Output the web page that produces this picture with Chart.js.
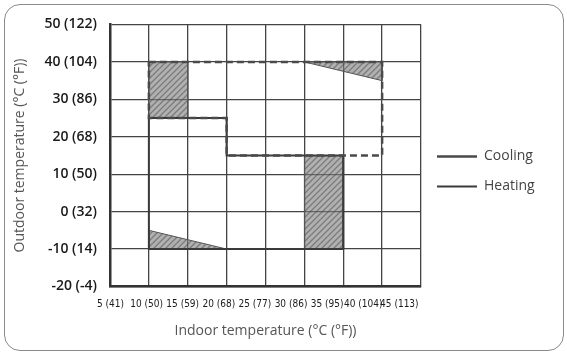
<!DOCTYPE html>
<html lang="en">
<head>
<meta charset="UTF-8">
<title>Operating range</title>
<script src="https://cdn.jsdelivr.net/npm/chart.js"></script>
<style>
  body { margin: 0; background: #fff; }
  #frame { position: absolute; left: 4px; top: 4px; width: 560px; height: 347px; box-sizing: border-box; border: 1.5px solid #8a8a8a; border-radius: 16px; }
  #wrap { position: absolute; left: 0; top: 0; width: 567px; height: 354px; }
</style>
</head>
<body>
<div id="frame"></div>
<div id="wrap"><canvas id="rangeChart"></canvas></div>
<script>
// axis ticks (°C) and their °C (°F) labels
const xTicks = [5, 10, 15, 20, 25, 30, 35, 40, 45];
const xTickLabels = ['5 (41)', '10 (50)', '15 (59)', '20 (68)', '25 (77)', '30 (86)', '35 (95)', '40 (104)', '45 (113)'];
const yTicks = [-20, -10, 0, 10, 20, 30, 40, 50];
const yTickLabels = ['-20 (-4)', '-10 (14)', '0 (32)', '10 (50)', '20 (68)', '30 (86)', '40 (104)', '50 (122)'];

// outlines: [indoor, outdoor]
const coolingPts = [[10, 40], [40, 40], [40, 15], [20, 15], [20, 25], [10, 25], [10, 40]];
const heatingPts = [[10, 25], [20, 25], [20, 15], [35, 15], [35, -10], [10, -10], [10, 25]];

// hatched areas
const hatchTopLeft = [[10, 40], [15, 40], [15, 25], [10, 25], [10, 40]];
const hatchTopRight = [[30, 40], [40, 40], [40, 35], [30, 40]];
const hatchRight = [[30, 15], [35, 15], [35, -10], [30, -10], [30, 15]];
const hatchBottomLeft = [[10, -5], [20, -10], [10, -10], [10, -5]];

const sans = "'Open Sans', sans-serif";

function hatch() {
    const c = document.createElement('canvas');
    c.width = 6; c.height = 6;
    const g = c.getContext('2d');
    g.fillStyle = 'rgba(125,125,125,0.6)';
    g.fillRect(0, 0, 6, 6);
    g.strokeStyle = 'rgba(70,70,70,0.5)';
    g.lineWidth = 1.3;
    g.beginPath();
    g.moveTo(0, 6); g.lineTo(6, 0);
    g.moveTo(-1, 1); g.lineTo(1, -1);
    g.moveTo(5, 7); g.lineTo(7, 5);
    g.stroke();
    return g.createPattern(c, 'repeat');
}
const pattern = hatch();

const toXY = pts => pts.map(p => ({x: p[0], y: p[1]}));

function hatchSet(pts) {
    return {
        label: '',
        data: toXY(pts),
        borderColor: '#555',
        borderWidth: 1,
        backgroundColor: pattern,
        fill: 'shape',
        pointRadius: 0,
        tension: 0
    };
}

const ctx = document.getElementById('rangeChart').getContext('2d');

new Chart(ctx, {
    type: 'line',
    data: {
        datasets: [
            {
                label: 'Cooling',
                data: toXY(coolingPts),
                borderColor: '#4a4a4a',
                borderWidth: 2.5,
                borderDash: [7, 4],
                fill: false,
                pointRadius: 0,
                tension: 0
            },
            {
                label: 'Heating',
                data: toXY(heatingPts),
                borderColor: '#3a3a3a',
                borderWidth: 2,
                fill: false,
                pointRadius: 0,
                tension: 0
            },
            hatchSet(hatchTopLeft),
            hatchSet(hatchTopRight),
            hatchSet(hatchRight),
            hatchSet(hatchBottomLeft)
        ]
    },
    options: {
        responsive: true,
        maintainAspectRatio: false,
        animation: false,
        layout: { padding: { left: 0, right: 24, top: 24.5, bottom: 0 } },
        plugins: {
            tooltip: { enabled: false },
            legend: {
                position: 'right',
                fullSize: false,
                maxWidth: 122,
                title: { display: true, text: ' ', padding: 0, font: { size: 20, lineHeight: 1.6 } },
                labels: {
                    usePointStyle: true,
                    pointStyle: 'line',
                    pointStyleWidth: 40,
                    padding: 16,
                    color: '#444',
                    font: { family: sans, size: 14 },
                    filter: item => item.text !== ''
                }
            }
        },
        scales: {
            x: {
                type: 'linear',
                position: 'bottom',
                min: 5,
                max: 45,
                ticks: { display: false, stepSize: 5 },
                grid: { color: '#444', lineWidth: 1.3, drawTicks: false },
                border: { color: '#333', width: 2.5 },
                afterFit: s => { s.height = 0; }
            },
            xl: {
                type: 'linear',
                position: 'bottom',
                min: 4.93,
                max: 48,
                afterBuildTicks: s => { s.ticks = xTicks.map(v => ({value: v})); },
                ticks: {
                    autoSkip: false,
                    maxRotation: 0,
                    padding: 12,
                    color: '#1a1a1a',
                    font: { family: "'DejaVu Sans'", weight: 'condensed', size: 10 },
                    callback: v => xTickLabels[xTicks.indexOf(v)]
                },
                grid: { display: false, drawTicks: false },
                border: { display: false },
                title: {
                    display: true,
                    text: 'Indoor temperature (°C (°F))',
                    color: '#555',
                    font: { family: sans, size: 14 },
                    padding: { top: 0, bottom: 14.6 }
                },
                afterFit: s => { s.height = 67.5; }
            },
            y: {
                type: 'linear',
                min: -20,
                max: 50,
                ticks: {
                    stepSize: 5,
                    padding: 13,
                    color: '#1a1a1a',
                    font: { family: sans, size: 14, weight: '600' },
                    callback: v => {
                        const i = yTicks.indexOf(v);
                        return i >= 0 ? yTickLabels[i] : '';
                    }
                },
                grid: { color: '#444', lineWidth: 1.3, drawTicks: false },
                border: { color: '#333', width: 2.5 },
                title: {
                    display: true,
                    text: 'Outdoor temperature (°C (°F))',
                    color: '#555',
                    font: { family: sans, size: 14 },
                    padding: { top: 11.6, bottom: 0 }
                },
                afterFit: s => { s.width = 110; }
            }
        }
    }
});
</script>
</body>
</html>
